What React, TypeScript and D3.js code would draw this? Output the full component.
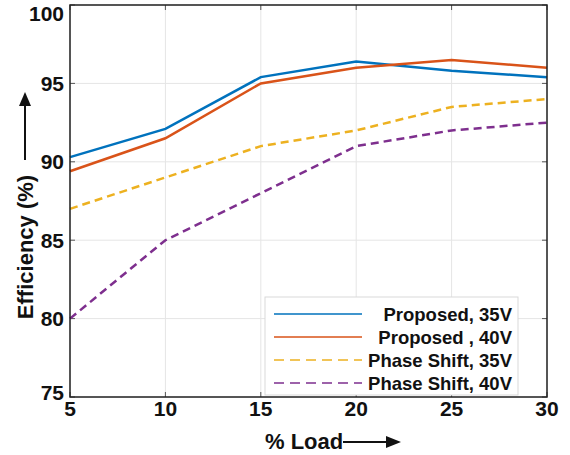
import React from "react";
import * as d3 from "d3";

const loads = [5, 10, 15, 20, 25, 30];
const proposed35 = [90.3, 92.1, 95.4, 96.4, 95.8, 95.4];
const proposed40 = [89.4, 91.5, 95.0, 96.0, 96.5, 96.0];
const phase35 = [87.0, 89.0, 91.0, 92.0, 93.5, 94.0];
const phase40 = [80.0, 85.0, 88.0, 91.0, 92.0, 92.5];
const xTicks = [5, 10, 15, 20, 25, 30];
const yTicks = [75, 80, 85, 90, 95, 100];
const seriesNames = ["Proposed, 35V", "Proposed , 40V", "Phase Shift, 35V", "Phase Shift, 40V"];

const W = 570, H = 455;
const M = { left: 70, top: 5, right: 547, bottom: 397 };

export default function App() {
  const x = d3.scaleLinear().domain([5, 30]).range([M.left, M.right]);
  const y = d3.scaleLinear().domain([75, 100]).range([M.bottom, M.top]);
  const line = d3.line<[number, number]>().x((d) => x(d[0])).y((d) => y(d[1]));
  const series = [
    { name: seriesNames[0], vals: proposed35, color: "#0072BD", dash: null },
    { name: seriesNames[1], vals: proposed40, color: "#D95319", dash: null },
    { name: seriesNames[2], vals: phase35, color: "#EDB120", dash: "8,5" },
    { name: seriesNames[3], vals: phase40, color: "#7E2F8E", dash: "8,5" },
  ];
  const font = "'Liberation Sans', Arial, sans-serif";
  const lg = { x0: 265, y0: 297, x1: 518, y1: 395 };
  const rowY = [314, 337, 360, 383];
  const labelY = (t: number) => Math.min(Math.max(y(t), M.top + 8), M.bottom - 5);
  return (
    <svg width={W} height={H} style={{ position: "absolute", left: 0, top: 0, background: "#fff" }} fontFamily={font}>
      <rect x={0} y={0} width={W} height={H} fill="#fff" />
      {/* grid */}
      {xTicks.map((t) => (
        <line key={"gx" + t} x1={x(t)} x2={x(t)} y1={M.top} y2={M.bottom} stroke="#e5e5e5" strokeWidth={1} />
      ))}
      {yTicks.map((t) => (
        <line key={"gy" + t} x1={M.left} x2={M.right} y1={y(t)} y2={y(t)} stroke="#e5e5e5" strokeWidth={1} />
      ))}
      {/* ticks inward */}
      {xTicks.map((t) => (
        <g key={"tx" + t}>
          <line x1={x(t)} x2={x(t)} y1={M.bottom} y2={M.bottom - 5} stroke="#555" />
          <line x1={x(t)} x2={x(t)} y1={M.top} y2={M.top + 5} stroke="#555" />
        </g>
      ))}
      {yTicks.map((t) => (
        <g key={"ty" + t}>
          <line x1={M.left} x2={M.left + 5} y1={y(t)} y2={y(t)} stroke="#555" />
          <line x1={M.right} x2={M.right - 5} y1={y(t)} y2={y(t)} stroke="#555" />
        </g>
      ))}
      {/* data */}
      {series.map((s) => (
        <path
          key={s.name}
          d={line(loads.map((l, i) => [l, s.vals[i]]) as [number, number][]) || ""}
          fill="none"
          stroke={s.color}
          strokeWidth={2.5}
          strokeDasharray={s.dash || undefined}
        />
      ))}
      {/* box */}
      <rect x={M.left} y={M.top} width={M.right - M.left} height={M.bottom - M.top} fill="none" stroke="#222" strokeWidth={1.5} />
      {/* tick labels */}
      {xTicks.map((t) => (
        <text key={"lx" + t} x={x(t)} y={416} textAnchor="middle" fontSize={21} fontWeight="bold" fill="#111">
          {t}
        </text>
      ))}
      {yTicks.map((t) => (
        <text key={"ly" + t} x={64} y={labelY(t)} dy="0.36em" textAnchor="end" fontSize={21} fontWeight="bold" fill="#111">
          {t}
        </text>
      ))}
      {/* legend */}
      <rect x={lg.x0} y={lg.y0} width={lg.x1 - lg.x0} height={lg.y1 - lg.y0} fill="#fff" stroke="#d9d9d9" strokeWidth={1} />
      {series.map((s, i) => (
        <g key={"lg" + i}>
          <line x1={274} x2={362} y1={rowY[i]} y2={rowY[i]} stroke={s.color} strokeWidth={1.6} strokeDasharray={s.dash ? "10,6" : undefined} />
          <text x={512} y={rowY[i]} dy="0.36em" textAnchor="end" fontSize={18.5} fontWeight="bold" fill="#111">
            {s.name}
          </text>
        </g>
      ))}
      {/* y title */}
      <text transform="translate(33,247) rotate(-90)" textAnchor="middle" fontSize={22} fontWeight="bold" fill="#111">
        Efficiency (%)
      </text>
      <line x1={25} x2={25} y1={160} y2={104} stroke="#111" strokeWidth={2} />
      <path d="M19,106 L31,106 L25,92 Z" fill="#111" />
      {/* x title */}
      <text x={265} y={449} textAnchor="start" fontSize={22} fontWeight="bold" fill="#111">
        % Load
      </text>
      <line x1={343} x2={388} y1={442} y2={442} stroke="#111" strokeWidth={2} />
      <path d="M386,436 L386,448 L401,442 Z" fill="#111" />
    </svg>
  );
}
